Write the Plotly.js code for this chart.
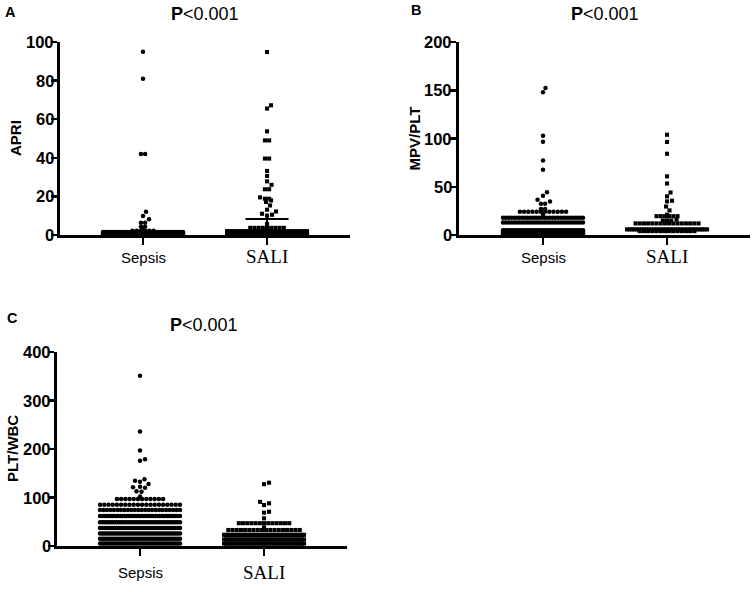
<!DOCTYPE html>
<html>
<head>
<meta charset="utf-8">
<script src="https://cdn.plot.ly/plotly-3.0.1.min.js"></script>
<style>
  html, body { margin: 0; padding: 0; background: #fff; }
  #chart { width: 754px; height: 592px; }
</style>
</head>
<body>
<div id="chart"></div>
<script>
// ---------------- DATA ----------------
const categories = ['Sepsis', 'SALI'];
const panelLetters = ['A', 'B', 'C'];
const panelTitles = ['P<0.001', 'P<0.001', 'P<0.001'];
const yTitles = ['APRI', 'MPV/PLT', 'PLT/WBC'];

const apriTicks = [0, 20, 40, 60, 80, 100];
const mpvTicks = [0, 50, 100, 150, 200];
const pltTicks = [0, 100, 200, 300, 400];

// values (rows of the dot plot) and how many dots sit in each row
const apriSepsisVals   = [95, 81, 42, 12, 9.8, 8.1, 6.4, 4.3, 3.2, 2.2, 1.5, 1.0, 0.6, 0.2];
const apriSepsisCounts = [1, 1, 2, 1, 1, 1, 2, 2, 1, 6, 30, 60, 60, 60];
const apriSaliVals   = [94.8, 67.2, 65.5, 53.7, 49, 39.6, 33.2, 30.6, 27.8, 26, 23.7, 19.5, 18.8, 17.9, 17.1, 15.3, 13.1, 12.2, 11, 10.5, 10, 5.6, 3.7, 2.0, 1.3, 0.6];
const apriSaliCounts = [1, 1, 1, 1, 2, 2, 1, 1, 1, 1, 2, 1, 2, 1, 1, 1, 1, 1, 1, 1, 1, 1, 9, 26, 40, 30];
const apriMeans   = [1.4, 8.3];
const apriErrUp   = [2.6, 2.8];
const apriErrDown = [1.4, 7.8];

const mpvSepsisVals   = [152.3, 147.8, 102.9, 96.7, 77.3, 67.7, 44.3, 40.8, 36.5, 34.8, 32.4, 26.9, 24.1, 21, 18, 13, 4.8, 3.3, 1.8, 0.5];
const mpvSepsisCounts = [1, 1, 1, 1, 1, 1, 1, 1, 1, 1, 2, 2, 12, 1, 30, 30, 40, 40, 40, 40];
const mpvSaliVals   = [103.9, 96.4, 84.2, 60.8, 53.4, 44, 40, 35.5, 34.8, 29.5, 25.5, 21, 19.5, 16, 15, 12, 5.8, 4];
const mpvSaliCounts = [1, 1, 1, 1, 1, 1, 1, 1, 1, 1, 1, 1, 6, 1, 3, 16, 34, 14];

const pltSepsisVals   = [351, 236, 197, 179, 176, 137.5, 134.6, 132.6, 127.8, 122, 121, 120, 113, 112, 102, 97, 85, 74, 62, 49, 37, 26, 15, 5];
const pltSepsisCounts = [1, 1, 1, 1, 1, 1, 1, 1, 1, 1, 1, 1, 1, 1, 1, 12, 20, 24, 40, 40, 40, 40, 40, 40];
const pltSaliVals   = [130.5, 127.5, 91, 88, 84.5, 70.7, 68.7, 57, 47, 38.5, 33, 23, 13.5, 5];
const pltSaliCounts = [1, 1, 1, 1, 1, 1, 1, 1, 13, 1, 18, 40, 40, 40];

// ---------------- LAYOUT GEOMETRY ----------------
const W = 754, H = 592;
const FS = 'Liberation Sans, Arial, sans-serif';
const FSERIF = 'Liberation Serif, Times New Roman, serif';
const panels = [
  { px: [60, 350], py: [42, 235], xr: [0.3306, 2.669], yr: [0, 100], ticks: apriTicks },
  { px: [459, 750], py: [42, 235], xr: [0.3226, 2.669], yr: [0, 200], ticks: mpvTicks },
  { px: [57, 347], py: [352, 546], xr: [0.3306, 2.669], yr: [0, 400], ticks: pltTicks }
];
panels.forEach(p => {
  p.pxPerX = (p.px[1] - p.px[0]) / (p.xr[1] - p.xr[0]);
  p.pxPerY = (p.py[1] - p.py[0]) / (p.yr[1] - p.yr[0]);
});

// dot-plot (beeswarm) placement computed from the values
function swarm(vals, counts, center, p) {
  const d = 4.2, maxW = 80, coll = 5.0, step = 0.5;
  const idx = vals.map((v, i) => i).sort((a, b) => vals[a] - vals[b]);
  const sparse = [];
  const xs = [], ys = [];
  for (const i of idx) {
    const v = vals[i], n = counts[i], ypx = v * p.pxPerY;
    if (n > 1) {
      const s = Math.min(d, maxW / (n - 1));
      for (let k = 0; k < n; k++) {
        const off = (k - (n - 1) / 2) * s;
        if (n <= 3) sparse.push([off, ypx]);
        xs.push(center + off / p.pxPerX); ys.push(v);
      }
    } else {
      const cands = [0];
      for (let j = 1; j * step <= maxW / 2; j++) cands.push(j * step, -j * step);
      let chosen = 0;
      for (const c of cands) {
        let ok = true;
        for (const q of sparse) {
          const dx = q[0] - c, dy = q[1] - ypx;
          if (dx * dx + dy * dy < coll * coll) { ok = false; break; }
        }
        if (ok) { chosen = c; break; }
      }
      sparse.push([chosen, ypx]);
      xs.push(center + chosen / p.pxPerX); ys.push(v);
    }
  }
  return { x: xs, y: ys };
}

const series = [
  [[apriSepsisVals, apriSepsisCounts], [apriSaliVals, apriSaliCounts]],
  [[mpvSepsisVals, mpvSepsisCounts], [mpvSaliVals, mpvSaliCounts]],
  [[pltSepsisVals, pltSepsisCounts], [pltSaliVals, pltSaliCounts]]
];
const symbols = ['circle', 'square'];
const sizes = [4.5, 4.1];

const traces = [];
series.forEach((grp, pi) => {
  const sfx = pi === 0 ? '' : String(pi + 1);
  grp.forEach((sv, ci) => {
    const pts = swarm(sv[0], sv[1], ci + 1, panels[pi]);
    traces.push({
      type: 'scatter', mode: 'markers', x: pts.x, y: pts.y,
      xaxis: 'x' + sfx, yaxis: 'y' + sfx, cliponaxis: false,
      marker: { symbol: symbols[ci], size: sizes[ci], color: '#000', line: { width: 0 } },
      hoverinfo: 'skip', showlegend: false
    });
  });
});

// mean lines with error bars (panel A)
const halfW = 21.5 / panels[0].pxPerX;
apriMeans.forEach((m, ci) => {
  traces.push({
    type: 'scatter', mode: 'lines', x: [ci + 1 - halfW, ci + 1 + halfW], y: [m, m],
    xaxis: 'x', yaxis: 'y', line: { color: '#000', width: 2 }, cliponaxis: false,
    hoverinfo: 'skip', showlegend: false
  });
  traces.push({
    type: 'scatter', mode: 'markers', x: [ci + 1], y: [m], xaxis: 'x', yaxis: 'y',
    marker: { size: 1, color: 'rgba(0,0,0,0)' }, cliponaxis: false,
    error_y: { type: 'data', symmetric: false, array: [apriErrUp[ci]], arrayminus: [apriErrDown[ci]],
               color: '#000', thickness: 2, width: 0 },
    hoverinfo: 'skip', showlegend: false
  });
});

const layout = {
  width: W, height: H,
  margin: { l: 0, r: 0, t: 0, b: 0 },
  paper_bgcolor: '#fff', plot_bgcolor: 'rgba(0,0,0,0)',
  showlegend: false,
  annotations: []
};

function esc(s) { return s.replace(/&/g, '&amp;').replace(/</g, '&lt;').replace(/>/g, '&gt;'); }

panels.forEach((p, pi) => {
  const sfx = pi === 0 ? '' : String(pi + 1);
  layout['xaxis' + sfx] = {
    domain: [p.px[0] / W, p.px[1] / W], range: p.xr, anchor: 'y' + sfx,
    showline: true, linewidth: 3, linecolor: '#000', mirror: false,
    ticks: 'outside', ticklen: 7, tickwidth: 2.5, tickcolor: '#000',
    tickvals: [1, 2], showticklabels: false,
    showgrid: false, zeroline: false, fixedrange: true
  };
  layout['yaxis' + sfx] = {
    domain: [1 - p.py[1] / H, 1 - p.py[0] / H], range: p.yr, anchor: 'x' + sfx,
    showline: true, linewidth: 3, linecolor: '#000',
    ticks: 'outside', ticklen: 6, tickwidth: 2.5, tickcolor: '#000',
    tickvals: p.ticks, showticklabels: false,
    showgrid: false, zeroline: false, fixedrange: true
  };
  // y tick labels placed tight against the ticks (as in the reference)
  p.ticks.forEach(t => layout.annotations.push({
    text: '<b>' + t + '</b>', xref: 'paper', yref: 'y' + sfx,
    x: (p.px[0] - 4.5) / W, y: t, xanchor: 'right', yanchor: 'middle',
    showarrow: false, font: { family: FS, size: 16.5, color: '#000' }
  }));
});

// panel letters
const letterPos = [[3, 12], [409, 10], [5, 318]];
panelLetters.forEach((t, i) => layout.annotations.push({
  text: '<b>' + t + '</b>', xref: 'paper', yref: 'paper',
  x: letterPos[i][0] / W, y: 1 - letterPos[i][1] / H, xanchor: 'left', yanchor: 'middle',
  showarrow: false, font: { family: FS, size: 14.5, color: '#000' }
}));
// titles
const titlePos = [[205, 13.5], [605, 13.5], [204, 325]];
panelTitles.forEach((t, i) => {
  const txt = '<b>' + esc(t.charAt(0)) + '</b>' + esc(t.slice(1));
  layout.annotations.push({
    text: txt, xref: 'paper', yref: 'paper',
    x: titlePos[i][0] / W, y: 1 - titlePos[i][1] / H, xanchor: 'center', yanchor: 'middle',
    showarrow: false, font: { family: FS, size: 18, color: '#000' }
  });
});
// y-axis titles
const yTitlePos = [[15.5, 138.5], [414, 138.5], [12, 449]];
yTitles.forEach((t, i) => layout.annotations.push({
  text: '<b>' + esc(t) + '</b>', xref: 'paper', yref: 'paper', textangle: -90,
  x: yTitlePos[i][0] / W, y: 1 - yTitlePos[i][1] / H, xanchor: 'center', yanchor: 'middle',
  showarrow: false, font: { family: FS, size: 15, color: '#000' }
}));
// category labels
const catY = [[257, 256], [257, 256], [572.3, 572]];
panels.forEach((p, pi) => {
  const sfx = pi === 0 ? '' : String(pi + 1);
  categories.forEach((c, ci) => layout.annotations.push({
    text: esc(c), xref: 'x' + sfx, yref: 'paper',
    x: ci + 1, y: 1 - catY[pi][ci] / H, xanchor: 'center', yanchor: 'middle',
    showarrow: false,
    font: ci === 0 ? { family: FS, size: 15, color: '#000' } : { family: FSERIF, size: 19, color: '#000' }
  }));
});

Plotly.newPlot('chart', traces, layout, { staticPlot: true, displayModeBar: false });
</script>
</body>
</html>
